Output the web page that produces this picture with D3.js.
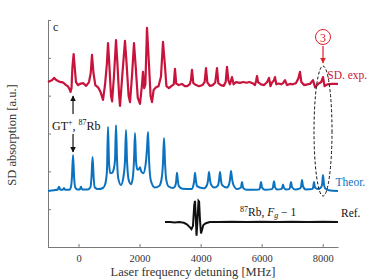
<!DOCTYPE html>
<html>
<head>
<meta charset="utf-8">
<script src="https://cdn.jsdelivr.net/npm/d3@7"></script>
<style>
  body{margin:0;background:#fff;}
  text{font-family:"Liberation Serif","DejaVu Serif",serif;}
</style>
</head>
<body>
<div id="graphique"></div>
<script>
// SD absorption spectra: [detuning MHz, signal a.u.]
const sdExp=[[-1000,4.36],[-930,4.39],[-870,4.41],[-800,4.47],[-740,4.42],[-672,4.39],[-600,4.36],[-541,4.36],[-476,4.33],[-410,4.28],[-350,4.25],[-300,4.18],[-262,4.10],[-230,4.20],[-200,4.75],[-160,5.10],[-120,4.70],[-83,4.36],[-17,4.28],[48,4.31],[150,4.33],[250,4.26],[343,4.36],[400,4.60],[441,5.08],[490,4.60],[550,4.28],[640,4.22],[720,4.10],[802,3.89],[870,4.30],[930,4.85],[966,5.39],[1000,4.95],[1064,4.00],[1100,3.85],[1160,4.5],[1228,5.47],[1270,4.9],[1330,4.0],[1359,3.73],[1430,4.5],[1522,5.45],[1570,4.9],[1640,4.0],[1686,3.83],[1750,4.5],[1817,5.39],[1870,4.8],[1940,3.95],[2014,3.78],[2080,4.30],[2112,4.63],[2150,4.20],[2190,4.30],[2243,5.79],[2300,4.95],[2360,4.0],[2407,3.83],[2460,4.15],[2540,4.22],[2620,4.25],[2700,4.50],[2767,5.42],[2820,4.90],[2880,4.25],[2960,4.20],[3050,4.26],[3120,4.30],[3160,4.71],[3200,4.32],[3280,4.28],[3390,4.31],[3480,4.25],[3560,4.25],[3640,4.30],[3680,4.40],[3717,4.68],[3760,4.33],[3850,4.28],[3950,4.25],[4060,4.28],[4130,4.36],[4176,4.73],[4220,4.35],[4300,4.26],[4400,4.28],[4480,4.35],[4536,4.73],[4580,4.33],[4660,4.28],[4760,4.26],[4820,4.36],[4864,4.76],[4910,4.40],[4960,4.30],[5028,4.49],[5080,4.30],[5160,4.36],[5290,4.34],[5400,4.36],[5500,4.34],[5600,4.36],[5700,4.33],[5781,4.28],[5820,4.40],[5847,4.52],[5880,4.36],[5980,4.30],[6080,4.28],[6180,4.36],[6240,4.47],[6290,4.25],[6340,4.35],[6400,4.40],[6436,4.49],[6480,4.30],[6560,4.32],[6640,4.30],[6700,4.33],[6764,4.41],[6830,4.28],[6930,4.31],[7020,4.30],[7120,4.33],[7200,4.45],[7255,4.63],[7300,4.36],[7386,4.28],[7500,4.30],[7580,4.31],[7681,4.41],[7750,4.22],[7850,4.31],[7950,4.36],[8009,4.49],[8060,4.25],[8150,4.30],[8300,4.31],[8500,4.31]];

const sdTheor=[[-1000,1.48],[-800,1.50],[-680,1.52],[-640,1.59],[-600,1.52],[-520,1.51],[-476,1.56],[-440,1.51],[-300,1.51],[-250,1.58],[-215,1.85],[-180,2.43],[-145,1.85],[-110,1.58],[-40,1.52],[40,1.52],[81,1.59],[120,1.52],[300,1.52],[390,1.58],[425,1.85],[460,2.38],[495,1.85],[530,1.58],[640,1.53],[800,1.56],[870,1.65],[930,2.0],[966,3.17],[1000,2.2],[1040,1.95],[1097,1.96],[1150,2.05],[1195,2.3],[1228,3.22],[1262,2.3],[1300,1.82],[1390,1.64],[1460,1.8],[1520,2.25],[1555,3.09],[1590,2.25],[1650,1.75],[1720,1.66],[1780,1.85],[1818,2.3],[1850,3.01],[1885,2.25],[1930,2.04],[1980,2.06],[2014,2.11],[2050,2.0],[2120,1.95],[2200,2.2],[2243,2.6],[2276,3.04],[2310,2.3],[2370,1.75],[2500,1.57],[2650,1.62],[2730,1.85],[2765,2.2],[2800,2.88],[2835,2.2],[2870,1.8],[2950,1.6],[3100,1.56],[3170,1.62],[3200,1.75],[3226,1.96],[3255,1.75],[3290,1.6],[3400,1.54],[3700,1.53],[3760,1.62],[3790,1.76],[3816,1.96],[3845,1.76],[3880,1.61],[4100,1.55],[4210,1.64],[4245,1.78],[4274,1.98],[4305,1.78],[4340,1.65],[4450,1.57],[4570,1.63],[4605,1.78],[4634,1.98],[4665,1.78],[4700,1.64],[4850,1.57],[4930,1.65],[4965,1.8],[4995,2.01],[5030,1.8],[5070,1.65],[5200,1.53],[5320,1.57],[5355,1.72],[5390,1.57],[5500,1.51],[5920,1.52],[5945,1.57],[5978,1.72],[6010,1.57],[6100,1.51],[6340,1.53],[6370,1.58],[6404,1.74],[6436,1.58],[6500,1.52],[6640,1.53],[6670,1.56],[6700,1.65],[6730,1.56],[6800,1.52],[6900,1.53],[6930,1.58],[6960,1.72],[6995,1.58],[7100,1.52],[7255,1.55],[7290,1.6],[7321,1.77],[7355,1.6],[7450,1.52],[7650,1.53],[7685,1.57],[7714,1.72],[7745,1.57],[7850,1.53],[7950,1.58],[7980,1.66],[8009,1.9],[8040,1.66],[8080,1.55],[8200,1.50],[8500,1.48]];

const ref87=[[2833,0.66],[3000,0.66],[3150,0.65],[3300,0.66],[3450,0.64],[3550,0.60],[3650,0.52],[3700,0.47],[3750,0.56],[3790,1.10],[3816,1.22],[3840,0.80],[3865,0.30],[3890,0.60],[3930,1.22],[3950,1.20],[3980,0.70],[4012,0.36],[4045,0.45],[4090,0.58],[4170,0.63],[4300,0.66],[4600,0.66],[5000,0.67],[5500,0.66],[6000,0.67],[6500,0.66],[7000,0.67],[7500,0.66],[8000,0.67],[8500,0.66]];

const xTicks=[0,2000,4000,6000,8000];
const yTicks=[0,1,2,3,4,5,6];

const width=374, height=280;
const svg=d3.select("#graphique").append("svg")
    .attr("width",width).attr("height",height);

const x_scale=d3.scaleLinear().domain([-1000,8500]).range([48,338]);
const y_scale=d3.scaleLinear().domain([0,6]).range([247,20]);

// axes, ticks pointing inside
const axisCol="#7a7a7a";
const x_axis=d3.axisBottom(x_scale).tickValues(xTicks).tickFormat(d3.format("d"))
    .tickSizeInner(-3).tickSizeOuter(0).tickPadding(8);
const gx=svg.append("g").attr("transform","translate(0,247)").call(x_axis);
const y_axis=d3.axisLeft(y_scale).tickValues(yTicks).tickSizeInner(-3).tickSizeOuter(0).tickFormat("");
const gy=svg.append("g").attr("transform","translate(48,0)").call(y_axis);
[gx,gy].forEach(g=>{
  g.select(".domain").attr("stroke",axisCol);
  g.selectAll(".tick line").attr("stroke",axisCol);
});
gx.selectAll(".tick text").attr("fill","#333").style("font-family","'Liberation Serif',serif").style("font-size","10.5px");

const line=d3.line().x(d=>x_scale(d[0])).y(d=>y_scale(d[1]));
svg.append("path").datum(sdTheor).attr("fill","none").attr("stroke","#0b72bf")
   .attr("stroke-width",2).attr("d",line.curve(d3.curveMonotoneX));
svg.append("path").datum(sdExp).attr("fill","none").attr("stroke","#c8143c")
   .attr("stroke-width",2.2).attr("stroke-linejoin","round").attr("d",line.curve(d3.curveLinear));
svg.append("path").datum(ref87).attr("fill","none").attr("stroke","#111")
   .attr("stroke-width",2).attr("d",line.curve(d3.curveLinear));

// labels
svg.append("text").attr("x",193).attr("y",276).attr("text-anchor","middle")
   .attr("fill","#333").style("font-size","12.5px").text("Laser frequency detuning [MHz]");
svg.append("text").attr("transform","translate(16,135) rotate(-90)").attr("text-anchor","middle")
   .attr("fill","#333").style("font-size","12.5px").text("SD absorption [a.u.]");
svg.append("text").attr("x",53).attr("y",31).attr("fill","#222").style("font-size","12px").text("c");

svg.append("text").attr("x",x_scale(8150)).attr("y",79).attr("fill","#c8143c").style("font-size","11.5px").text("SD. exp.");
svg.append("text").attr("x",x_scale(8420)).attr("y",186).attr("fill","#0b72bf").style("font-size","11.5px").text("Theor.");
svg.append("text").attr("x",341).attr("y",217).attr("fill","#111").style("font-size","11.5px").text("Ref.");

const rb=svg.append("text").attr("x",240).attr("y",216).attr("fill","#111").style("font-size","11.5px");
rb.append("tspan").attr("dy",-4).style("font-size","8px").text("87");
rb.append("tspan").attr("dy",4).text("Rb, ");
rb.append("tspan").style("font-style","italic").text("F");
rb.append("tspan").attr("dy",2).style("font-size","8px").style("font-style","italic").text("g");
rb.append("tspan").attr("dy",-2).text(" \u2212 1");

const gt=svg.append("text").attr("x",52).attr("y",130).attr("fill","#111").style("font-size","12px");
gt.append("tspan").text("GT");
gt.append("tspan").attr("dy",-5).style("font-size","8px").text("+");
gt.append("tspan").attr("dy",5).text(", ");
gt.append("tspan").attr("dy",-5).style("font-size","8px").text("87");
gt.append("tspan").attr("dy",5).text("Rb");

// arrows
const defs=svg.append("defs");
function marker(id,col){
  defs.append("marker").attr("id",id).attr("viewBox","0 0 10 10").attr("refX",9).attr("refY",5)
    .attr("markerWidth",5).attr("markerHeight",6).attr("orient","auto")
    .append("path").attr("d","M0,0L10,5L0,10z").attr("fill",col);
}
marker("ab","#111");marker("ar","#e0202a");
const xa=x_scale(-180);
svg.append("line").attr("x1",xa).attr("x2",xa).attr("y1",114).attr("y2",96)
   .attr("stroke","#111").attr("stroke-width",1.2).attr("marker-end","url(#ab)");
svg.append("line").attr("x1",xa).attr("x2",xa).attr("y1",134).attr("y2",152)
   .attr("stroke","#111").attr("stroke-width",1.2).attr("marker-end","url(#ab)");

const xc=x_scale(8009);
svg.append("circle").attr("cx",xc).attr("cy",37).attr("r",7.5).attr("fill","none").attr("stroke","#e0202a").attr("stroke-width",1);
svg.append("text").attr("x",xc).attr("y",41.5).attr("text-anchor","middle").attr("fill","#e0202a").style("font-size","12px").text("3");
svg.append("line").attr("x1",xc).attr("x2",xc).attr("y1",46).attr("y2",63)
   .attr("stroke","#e0202a").attr("stroke-width",1.2).attr("marker-end","url(#ar)");
svg.append("ellipse").attr("cx",xc).attr("cy",131).attr("rx",9).attr("ry",65)
   .attr("fill","none").attr("stroke","#111").attr("stroke-width",1).attr("stroke-dasharray","3,2");
</script>
</body>
</html>
